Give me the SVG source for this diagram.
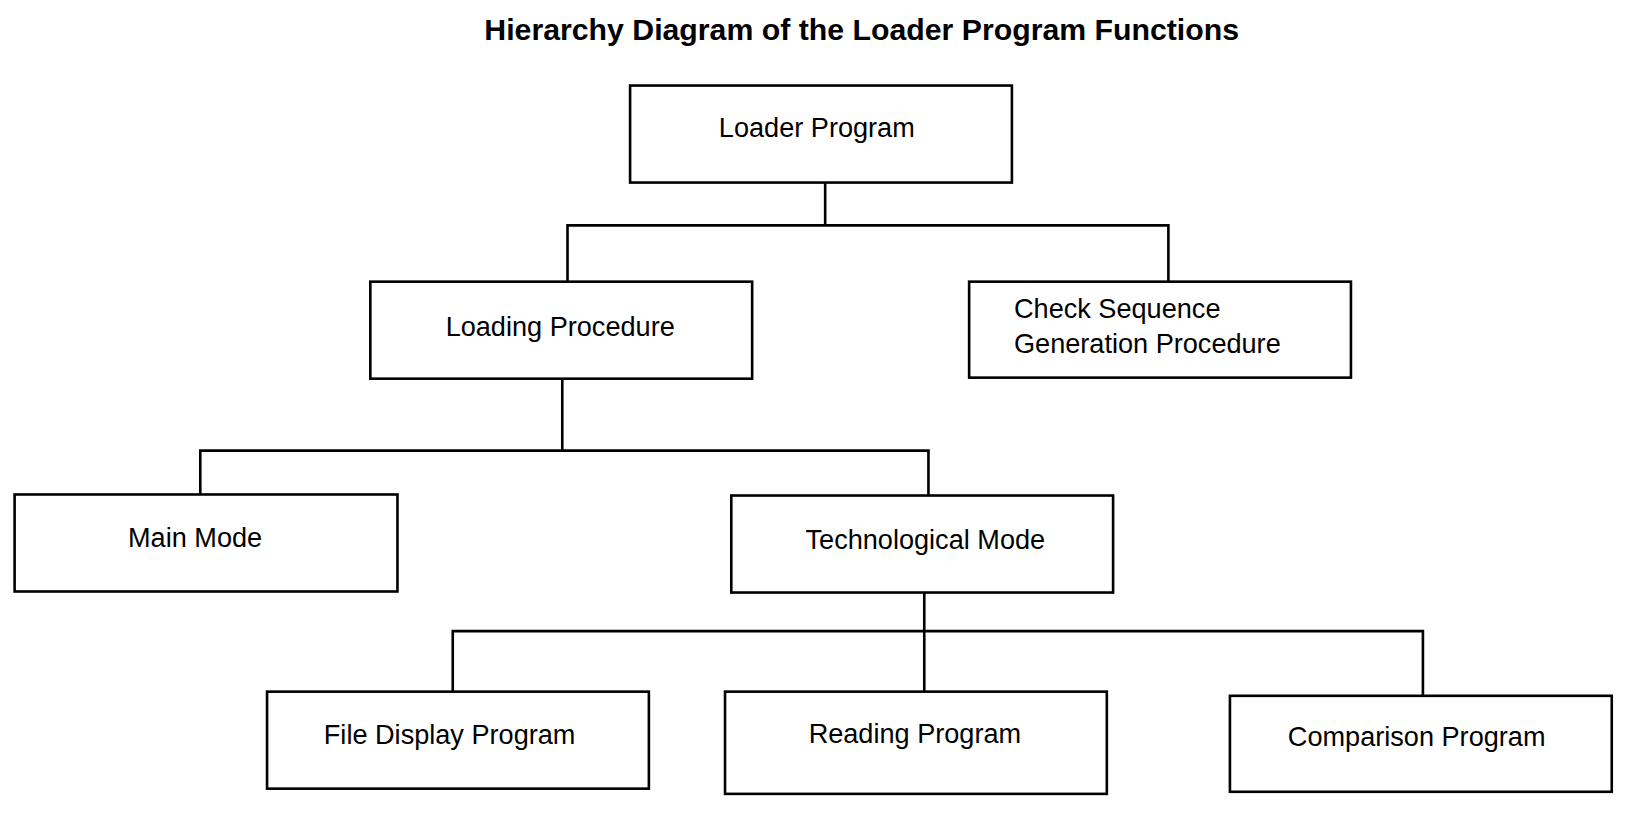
<svg xmlns="http://www.w3.org/2000/svg" width="1635" height="821" viewBox="0 0 1635 821">
<style>
rect{fill:#fff;stroke:#000;stroke-width:2.5}
text{font-family:"Liberation Sans",Arial,sans-serif;font-size:26px;fill:#000}
.c{text-anchor:middle}
#connectors path{fill:none;stroke:#000;stroke-width:2.5}
</style>
<rect x="0" y="0" width="1635" height="821" style="stroke:none"/>
<g transform="scale(1.0432)">
<text x="826" y="38" class="c" style="font-weight:bold;font-size:29px">Hierarchy Diagram of the Loader Program Functions</text>
<g id="connectors">
<path d="M791 175V216M544 270V216H1120V270"/>
<path d="M539 363V432M192 474V432H890V475"/>
<path d="M886 568V663M434 663V605H1364V667"/>
</g>
<g id="loader"><rect x="604" y="82" width="366" height="93"/><text x="783" y="131" class="c">Loader Program</text></g>
<g id="loading"><rect x="355" y="270" width="366" height="93"/><text x="537" y="322" class="c">Loading Procedure</text></g>
<g id="check"><rect x="929" y="270" width="366" height="92"/><text x="972" y="305">Check Sequence</text><text x="972" y="338">Generation Procedure</text></g>
<g id="main"><rect x="14" y="474" width="367" height="93"/><text x="187" y="524" class="c">Main Mode</text></g>
<g id="tech"><rect x="701" y="475" width="366" height="93"/><text x="887" y="526" class="c">Technological Mode</text></g>
<g id="filedisplay"><rect x="256" y="663" width="366" height="93"/><text x="431" y="713" class="c">File Display Program</text></g>
<g id="reading"><rect x="695" y="663" width="366" height="98"/><text x="877" y="712" class="c">Reading Program</text></g>
<g id="comparison"><rect x="1179" y="667" width="366" height="92"/><text x="1358" y="715" class="c">Comparison Program</text></g>
</g>
</svg>
